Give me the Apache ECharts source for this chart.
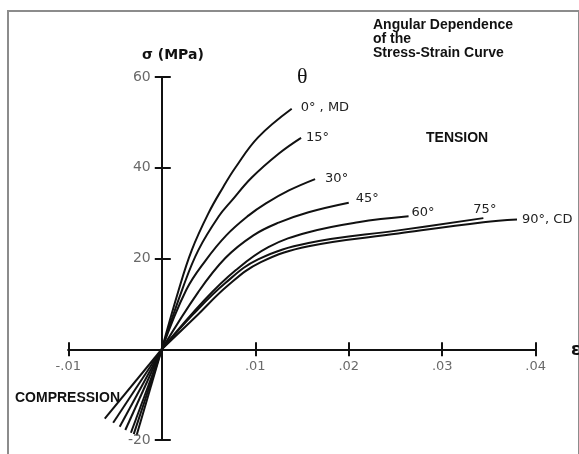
<!DOCTYPE html>
<html>
<head>
<meta charset="utf-8">
<script src="https://cdn.jsdelivr.net/npm/echarts@6/dist/echarts.min.js"></script>
<style>
  html, body { margin: 0; padding: 0; background: #fff; }
  #chart { width: 579px; height: 454px; }
</style>
</head>
<body>
<div id="chart"></div>
<script>
// Orientation angle of each curve and its label
const angleLabels = ['0° , MD', '15°', '30°', '45°', '60°', '75°', '90°, CD'];

// Tension branches: [strain, stress (MPa)]
const tension0 = [[0, 0], [0.0018, 13.0], [0.0032, 21.8], [0.0050, 30.0], [0.0065, 35.5], [0.0079, 40.1], [0.0103, 46.7], [0.0139, 53.0]];
const tension15 = [[0, 0], [0.0023, 13.8], [0.0039, 21.8], [0.0061, 29.3], [0.0075, 32.8], [0.0096, 37.8], [0.0125, 43.1], [0.0149, 46.6]];
const tension30 = [[0, 0], [0.0026, 13.0], [0.0047, 19.6], [0.0069, 25.1], [0.0093, 29.5], [0.0111, 32.1], [0.0136, 35.0], [0.0164, 37.5]];
const tension45 = [[0, 0], [0.0039, 12.6], [0.0068, 20.1], [0.0098, 25.1], [0.0125, 27.9], [0.0157, 30.2], [0.0200, 32.3]];
const tension60 = [[0, 0], [0.0046, 10.9], [0.0079, 17.4], [0.0114, 22.5], [0.0157, 25.8], [0.0210, 28.0], [0.0264, 29.3]];
const tension75 = [[0, 0], [0.0034, 7.8], [0.0068, 14.6], [0.0103, 19.8], [0.0157, 23.4], [0.0253, 26.2], [0.0344, 28.9]];
const tension90 = [[0, 0], [0.0036, 7.1], [0.0071, 14.1], [0.0106, 19.2], [0.0157, 22.7], [0.0253, 25.5], [0.0344, 28.0], [0.0380, 28.6]];

// Compression branches: [strain, stress (MPa)]
const compression0 = [[-0.0027, -19.0], [0, 0]];
const compression15 = [[-0.0030, -18.7], [0, 0]];
const compression30 = [[-0.0033, -18.4], [0, 0]];
const compression45 = [[-0.0039, -17.8], [0, 0]];
const compression60 = [[-0.0045, -17.1], [0, 0]];
const compression75 = [[-0.0052, -16.2], [0, 0]];
const compression90 = [[-0.0061, -15.3], [0, 0]];

// Axis ticks and their labels
const xTicks = [-0.01, 0, 0.01, 0.02, 0.03, 0.04];
const xTickLabels = ['-.01', '', '.01', '.02', '.03', '.04'];
const yTicks = [-20, 0, 20, 40, 60];
const yTickLabels = ['-20', '', '20', '40', '60'];

const tensionSets = [tension0, tension15, tension30, tension45, tension60, tension75, tension90];
const compressionSets = [compression0, compression15, compression30, compression45, compression60, compression75, compression90];

// where each curve's angle label sits relative to the curve end
const labelOffsets = [[9, -1], [5, 0], [10, 0], [7, -4], [3, -4], [-10, -8], [5, 0]];

const ink = '#111';
const lineW = 2;

const series = [];
tensionSets.forEach((data, i) => {
  series.push({
    type: 'line',
    name: angleLabels[i],
    data: data,
    smooth: 0.4,
    showSymbol: false,
    lineStyle: { color: ink, width: lineW },
    endLabel: {
      show: true,
      formatter: angleLabels[i],
      distance: 0,
      offset: labelOffsets[i],
      color: '#222',
      fontSize: 13,
      fontFamily: 'DejaVu Sans'
    },
    clip: false,
    z: 3
  });
});
compressionSets.forEach((data) => {
  series.push({
    type: 'line',
    data: data,
    showSymbol: false,
    lineStyle: { color: ink, width: lineW },
    clip: false,
    z: 3
  });
});

// Tick labels placed beside the axes that cross at the origin
series.push({
  type: 'scatter',
  silent: true,
  symbolSize: 0,
  data: xTicks.map((v) => [v, 0]),
  label: {
    show: true, position: 'bottom', distance: 11,
    color: '#444', fontSize: 13, fontFamily: 'DejaVu Sans',
    formatter: (p) => xTickLabels[p.dataIndex]
  },
  z: 4
});
series.push({
  type: 'scatter',
  silent: true,
  symbolSize: 0,
  data: yTicks.map((v) => [0, v]),
  label: {
    show: true, position: 'left', distance: 11,
    color: '#444', fontSize: 14, fontFamily: 'DejaVu Sans',
    formatter: (p) => yTickLabels[p.dataIndex]
  },
  z: 4
});

const axisLineStyle = { color: ink, width: lineW };

const option = {
  animation: false,
  backgroundColor: '#fff',
  grid: { left: 68.3, right: 43.3, top: 77, bottom: 14, containLabel: false },
  xAxis: [
    {
      type: 'value', min: -0.01, max: 0.04, interval: 0.01, position: 'bottom',
      axisLine: { show: true, onZero: true, lineStyle: axisLineStyle },
      axisTick: { show: true, inside: false, length: 7, lineStyle: axisLineStyle },
      axisLabel: { show: false },
      splitLine: { show: false }
    },
    {
      type: 'value', min: -0.01, max: 0.04, interval: 0.01, position: 'top',
      axisLine: { show: true, onZero: true, lineStyle: axisLineStyle },
      axisTick: { show: true, inside: false, length: 7, lineStyle: axisLineStyle },
      axisLabel: { show: false },
      splitLine: { show: false }
    }
  ],
  yAxis: [
    {
      type: 'value', min: -20, max: 60, interval: 20, position: 'left',
      axisLine: { show: true, onZero: true, lineStyle: axisLineStyle },
      axisTick: { show: true, inside: false, length: 7, lineStyle: axisLineStyle },
      axisLabel: { show: false },
      splitLine: { show: false }
    },
    {
      type: 'value', min: -20, max: 60, interval: 20, position: 'right',
      axisLine: { show: true, onZero: true, lineStyle: axisLineStyle },
      axisTick: { show: true, inside: false, length: 9, lineStyle: axisLineStyle },
      axisLabel: { show: false },
      splitLine: { show: false }
    }
  ],
  graphic: [
    {
      type: 'rect', silent: true,
      shape: { x: 8, y: 11, width: 571, height: 470 },
      style: { fill: 'none', stroke: '#8c8c8c', lineWidth: 2 }
    },
    {
      type: 'text', left: 373, top: 18,
      style: {
        text: 'Angular Dependence\nof the\nStress-Strain Curve',
        fill: '#111', font: 'bold 14px "Liberation Sans"', lineHeight: 14
      }
    },
    {
      type: 'text', left: 142, top: 48,
      style: { text: 'σ (MPa)', fill: '#111', font: 'bold 14px "DejaVu Sans"' }
    },
    {
      type: 'text', left: 297, top: 66,
      style: { text: 'θ', fill: '#111', font: '22px "Liberation Serif"' }
    },
    {
      type: 'text', left: 426, top: 131,
      style: { text: 'TENSION', fill: '#111', font: 'bold 14px "Liberation Sans"' }
    },
    {
      type: 'text', left: 15, top: 391,
      style: { text: 'COMPRESSION', fill: '#111', font: 'bold 14px "Liberation Sans"' }
    },
    {
      type: 'text', left: 571, top: 342,
      style: { text: 'ε', fill: '#111', font: 'bold 17px "DejaVu Sans"' }
    }
  ],
  series: series
};

const chart = echarts.init(document.getElementById('chart'), null, { renderer: 'canvas' });
chart.setOption(option);
</script>
</body>
</html>
